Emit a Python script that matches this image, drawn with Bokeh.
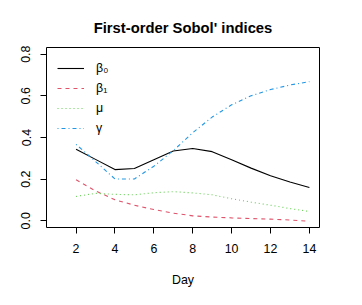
from bokeh.plotting import figure
from bokeh.models import Range1d, FixedTicker, PrintfTickFormatter, Legend, LegendItem
from bokeh.embed import file_html
from bokeh.resources import INLINE

days = [2, 3, 4, 5, 6, 7, 8, 9, 10, 11, 12, 13, 14]
beta0 = [0.344, 0.295, 0.246, 0.251, 0.293, 0.335, 0.347, 0.332, 0.293, 0.253, 0.216, 0.186, 0.160]
beta1 = [0.197, 0.144, 0.101, 0.075, 0.054, 0.037, 0.024, 0.018, 0.014, 0.011, 0.008, 0.004, -0.002]
mu = [0.117, 0.132, 0.127, 0.125, 0.135, 0.140, 0.134, 0.125, 0.106, 0.090, 0.075, 0.059, 0.045]
gamma = [0.367, 0.285, 0.201, 0.201, 0.262, 0.337, 0.423, 0.498, 0.557, 0.600, 0.630, 0.652, 0.668]

series_labels = ["\u03b2\u2080", "\u03b2\u2081", "\u03bc", "\u03b3"]
x_ticks = [2, 4, 6, 8, 10, 12, 14]
y_ticks = [0.0, 0.2, 0.4, 0.6, 0.8]
title_text = "First-order Sobol' indices"
x_label = "Day"

FONT = "Liberation Sans"

p = figure(width=346, height=289, output_backend="svg", toolbar_location=None,
           x_range=Range1d(0.48, 14.52), y_range=Range1d(-0.032, 0.832),
           min_border_left=46, min_border_right=27, min_border_top=47, min_border_bottom=62)
p.title.text = title_text
p.title.text_font = FONT
p.title.text_font_size = "14.8px"
p.title.text_font_style = "bold"
p.title.text_color = "black"
p.title.text_line_height = 1.0
p.title.align = "center"
p.title.standoff = 24

p.outline_line_color = "black"
p.outline_line_width = 1
p.outline_line_alpha = 1
p.xgrid.visible = False
p.ygrid.visible = False
p.background_fill_color = "white"
p.border_fill_color = "white"

for ax in (p.xaxis[0], p.yaxis[0]):
    ax.axis_line_color = None
    ax.major_tick_line_color = "black"
    ax.major_tick_line_width = 1
    ax.major_tick_out = 6
    ax.major_tick_in = 0
    ax.minor_tick_line_color = None
    ax.major_label_text_font = FONT
    ax.major_label_text_font_size = "12.4px"
    ax.major_label_text_color = "black"
    ax.axis_label_text_font = FONT
    ax.axis_label_text_font_size = "12.4px"
    ax.axis_label_text_font_style = "normal"
    ax.axis_label_text_color = "black"

p.xaxis[0].ticker = FixedTicker(ticks=x_ticks)
p.yaxis[0].ticker = FixedTicker(ticks=y_ticks)
p.yaxis[0].formatter = PrintfTickFormatter(format="%.1f")
p.yaxis[0].major_label_orientation = "vertical"
p.xaxis[0].major_label_standoff = 10
p.yaxis[0].major_label_standoff = 10
p.xaxis[0].axis_label = x_label
p.xaxis[0].axis_label_standoff = 17

r0 = p.line(days, beta0, line_color="#000000", line_width=1.1)
r1 = p.line(days, beta1, line_color="#DF536B", line_width=1.1, line_dash="4 4")
r2 = p.line(days, mu, line_color="#61D04F", line_width=1.1, line_dash="1 3")
r3 = p.line(days, gamma, line_color="#2297E6", line_width=1.1, line_dash="1 3 4 3")

legend = Legend(items=[LegendItem(label=lab, renderers=[r]) for lab, r in zip(series_labels, [r0, r1, r2, r3])],
                location="top_left", margin=11, padding=0, spacing=0,
                glyph_width=27, glyph_height=20, label_height=20, label_standoff=12,
                label_text_font=FONT, label_text_font_size="12.4px", label_text_color="black",
                background_fill_alpha=0, border_line_color=None)
p.add_layout(legend)

open("out.html", "w").write(file_html(p, INLINE))
